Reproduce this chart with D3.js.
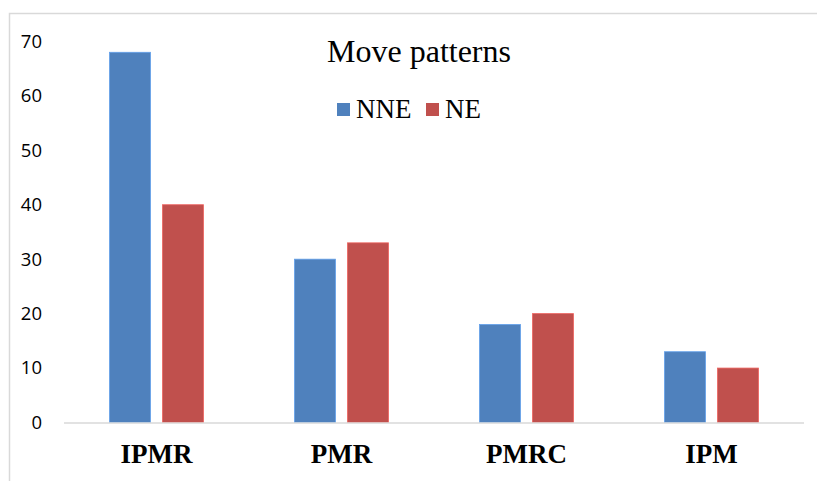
<!DOCTYPE html>
<html>
<head>
<meta charset="utf-8">
<script src="https://cdn.jsdelivr.net/npm/d3@7"></script>
<style>
  body { margin: 0; background: #fff; }
</style>
</head>
<body>
<div id="chart"></div>
<script>
const categories = ['IPMR', 'PMR', 'PMRC', 'IPM'];
const seriesNames = ['NNE', 'NE'];
const nneValues = [68, 30, 18, 13];
const neValues = [40, 33, 20, 10];
const yTicks = [0, 10, 20, 30, 40, 50, 60, 70];
const colours = ['#4F81BD', '#C0504D'];

const width = 817,
    height = 481,
    margin = { top: 41.4, right: 13, bottom: 58.5, left: 64 };

let svg = d3.select('#chart')
    .append('svg')
    .attr('width', width)
    .attr('height', height);

// outer frame (only top and left edges are visible in the picture)
svg.append('rect')
    .attr('x', 9.5)
    .attr('y', 13.5)
    .attr('width', width)
    .attr('height', height)
    .style('fill', 'none')
    .style('stroke', '#d9d9d9')
    .style('stroke-width', 1.5);

let x = d3.scaleBand()
    .domain(categories)
    .range([margin.left, width - margin.right]);

let y = d3.scaleLinear()
    .domain([0, 70])
    .range([height - margin.bottom, margin.top]);

let barW = 41, gap = 12;

let data = categories.map((c, i) => ({ cat: c, values: [nneValues[i], neValues[i]] }));

// y axis labels
let yAxis = d3.axisLeft(y).tickValues(yTicks).tickSize(0).tickPadding(0);
let gy = svg.append('g')
    .attr('transform', 'translate(42,0)')
    .call(yAxis);
gy.select('.domain').remove();
gy.selectAll('text')
    .style('font-family', '"Open Sans", "Liberation Sans", sans-serif')
    .style('font-size', '18.5px')
    .style('fill', '#000');

// bars
data.forEach(function (d) {
    let groupX = x(d.cat) + (x.bandwidth() - (2 * barW + gap)) / 2;
    d.values.forEach(function (v, j) {
        svg.append('rect')
            .attr('x', groupX + j * (barW + gap))
            .attr('y', y(v))
            .attr('width', barW)
            .attr('height', y(0) - y(v))
            .style('fill', colours[j])
            .style('stroke', d3.color(colours[j]).brighter(0.6))
            .style('stroke-width', 0.8);
    });
});

// baseline
svg.append('line')
    .attr('x1', margin.left)
    .attr('x2', width - margin.right)
    .attr('y1', y(0) + 0.5)
    .attr('y2', y(0) + 0.5)
    .style('stroke', '#d9d9d9')
    .style('stroke-width', 1.5);

// category labels
let xAxis = d3.axisBottom(x).tickSize(0).tickPadding(0);
let gx = svg.append('g')
    .attr('transform', 'translate(0,' + (y(0)) + ')')
    .call(xAxis);
gx.select('.domain').remove();
gx.selectAll('text')
    .attr('dy', 0)
    .attr('y', 40)
    .style('font-family', '"Liberation Serif", "Times New Roman", serif')
    .style('font-weight', 'bold')
    .style('font-size', '27px')
    .style('fill', '#000');

// title
svg.append('text')
    .attr('x', 419)
    .attr('y', 62)
    .attr('text-anchor', 'middle')
    .style('font-family', '"Liberation Serif", "Times New Roman", serif')
    .style('font-size', '32px')
    .text('Move patterns');

// legend
let legendX = [337, 426];
seriesNames.forEach(function (s, i) {
    svg.append('rect')
        .attr('x', legendX[i])
        .attr('y', 103)
        .attr('width', 13)
        .attr('height', 13)
        .style('fill', colours[i]);
    svg.append('text')
        .attr('x', legendX[i] + 19)
        .attr('y', 117.5)
        .style('font-family', '"Liberation Serif", "Times New Roman", serif')
        .style('font-size', '27px')
        .text(s);
});
</script>
</body>
</html>
